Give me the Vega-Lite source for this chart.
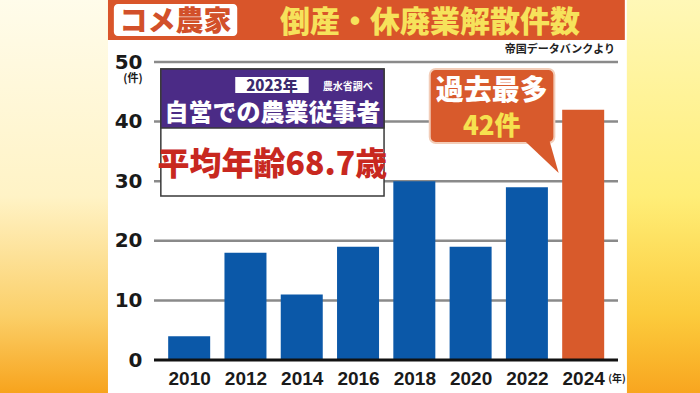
{
  "$schema": "https://vega.github.io/schema/vega-lite/v6.json",
  "width": 474,
  "height": 298,
  "autosize": {"type": "none"},
  "padding": {"left": 149, "top": 62, "right": 77, "bottom": 33},
  "background": "#FFF3B8",
  "config": {"view": {"stroke": null}, "text": {"font": "Noto Sans CJK JP"}},
  "data": {"values": [
    {"year": 2010, "count": 4},
    {"year": 2012, "count": 18},
    {"year": 2014, "count": 11},
    {"year": 2016, "count": 19},
    {"year": 2018, "count": 30},
    {"year": 2020, "count": 19},
    {"year": 2022, "count": 29},
    {"year": 2024, "count": 42}
  ]},
  "layer": [
    {
      "data": {"values": [{}]},
      "mark": {"type": "rect", "fill": {"gradient": "linear", "x1": 0, "y1": 0, "x2": 0, "y2": 1, "stops": [
        {"offset": 0, "color": "#FFFCEB"}, {"offset": 0.5, "color": "#FFF3C6"}, {"offset": 0.8, "color": "#FBCF68"}, {"offset": 1, "color": "#F7A21A"}]}},
      "encoding": {"x": {"datum": 2003}, "x2": {"datum": 2007.115}, "y": {"datum": 61}, "y2": {"datum": -6}}
    },
    {
      "data": {"values": [{}]},
      "mark": {"type": "rect", "fill": {"gradient": "linear", "x1": 0, "y1": 0, "x2": 0, "y2": 1, "stops": [
        {"offset": 0, "color": "#FFF8B8"}, {"offset": 0.5, "color": "#FFEE78"}, {"offset": 0.8, "color": "#FCCB3C"}, {"offset": 1, "color": "#F8A41E"}]}},
      "encoding": {"x": {"datum": 2025.55}, "x2": {"datum": 2029}, "y": {"datum": 61}, "y2": {"datum": -6}}
    },
    {
      "data": {"values": [{}]},
      "mark": {"type": "rect", "fill": "#FFFFFF"},
      "encoding": {"x": {"datum": 2007.115}, "x2": {"datum": 2025.55}, "y": {"datum": 61}, "y2": {"datum": -6}}
    },
    {
      "data": {"values": [{}]},
      "mark": {"type": "rect", "fill": "#D9552A"},
      "encoding": {"x": {"datum": 2007.115}, "x2": {"datum": 2025.48}, "y": {"datum": 61}, "y2": {"datum": 53.691}}
    },
    {
      "data": {"values": [{}]},
      "mark": {"type": "rect", "fill": "#FFFFFF", "cornerRadius": 4},
      "encoding": {"x": {"datum": 2007.324}, "x2": {"datum": 2011.707}, "y": {"datum": 59.732}, "y2": {"datum": 54.362}}
    },
    {
      "data": {"values": [{}]},
      "mark": {"type": "text", "fontSize": 28, "fontWeight": 900, "color": "#D2502A", "align": "center", "baseline": "middle"},
      "encoding": {"x": {"datum": 2009.515}, "y": {"datum": 56.6}, "text": {"value": "コメ農家"}}
    },
    {
      "data": {"values": [{}]},
      "mark": {"type": "text", "fontSize": 30, "fontWeight": 900, "color": "#F6E25B", "align": "center", "baseline": "middle"},
      "encoding": {"x": {"datum": 2018.559}, "y": {"datum": 56.5}, "text": {"value": "倒産・休廃業解散件数"}}
    },
    {
      "data": {"values": [{}]},
      "mark": {"type": "text", "fontSize": 11, "fontWeight": "bold", "color": "#222222", "align": "right", "baseline": "middle"},
      "encoding": {"x": {"datum": 2025.133}, "y": {"datum": 52.013}, "text": {"value": "帝国データバンクより"}}
    },
    {
      "data": {"values": [{"tick": 10}, {"tick": 20}, {"tick": 30}, {"tick": 40}, {"tick": 50}]},
      "mark": {"type": "rule", "color": "#8A8A8A", "strokeWidth": 2.5},
      "encoding": {"y": {"field": "tick", "type": "quantitative"}, "x": {"datum": 2008.75}, "x2": {"datum": 2025.237}}
    },
    {
      "mark": {"type": "bar", "size": 42},
      "encoding": {
        "x": {"field": "year", "type": "quantitative",
          "scale": {"domain": [2008.75, 2025.237], "nice": false, "zero": false},
          "axis": {"values": [2010, 2012, 2014, 2016, 2018, 2020, 2022, 2024], "format": "d", "title": null, "grid": false, "ticks": false, "domain": false,
            "labelFont": "Liberation Sans", "labelFontSize": 19, "labelFontWeight": "bold", "labelColor": "#1A1A1A",
            "labelPadding": 9, "zindex": 1, "labelFlush": false, "labelOverlap": false}},
        "y": {"field": "count", "type": "quantitative",
          "scale": {"domain": [0, 50], "nice": false},
          "axis": {"values": [0, 10, 20, 30, 40, 50], "title": null, "grid": false, "ticks": false, "domain": false,
            "labelFont": "DejaVu Sans", "labelFontSize": 20, "labelFontWeight": "bold", "labelColor": "#1A1A1A", "labelPadding": 7, "zindex": 1}},
        "color": {"condition": {"test": "datum.year === 2024", "value": "#D85A2B"}, "value": "#0B58A8"}
      }
    },
    {
      "data": {"values": [{}]},
      "mark": {"type": "rule", "color": "#111111", "strokeWidth": 3},
      "encoding": {"y": {"datum": 0}, "x": {"datum": 2008.75}, "x2": {"datum": 2025.237}}
    },
    {
      "data": {"values": [{}]},
      "mark": {"type": "text", "fontSize": 11, "fontWeight": "bold", "color": "#1A1A1A", "align": "center", "baseline": "middle"},
      "encoding": {"x": {"datum": 2008.002}, "y": {"datum": 47.1}, "text": {"value": "(件)"}}
    },
    {
      "data": {"values": [{}]},
      "mark": {"type": "text", "fontSize": 10, "fontWeight": "bold", "color": "#1A1A1A", "align": "center", "baseline": "middle"},
      "encoding": {"x": {"datum": 2025.2}, "y": {"datum": -3.188}, "text": {"value": "(年)"}}
    },
    {
      "data": {"values": [{}]},
      "mark": {"type": "rect", "fill": "#FFFFFF", "stroke": "#3A3A3A", "strokeWidth": 1.5},
      "encoding": {"x": {"datum": 2008.993}, "x2": {"datum": 2016.924}, "y": {"datum": 48.826}, "y2": {"datum": 27.517}}
    },
    {
      "data": {"values": [{}]},
      "mark": {"type": "rect", "fill": "#4B2B86", "stroke": "#3A3A3A", "strokeWidth": 1.5},
      "encoding": {"x": {"datum": 2008.993}, "x2": {"datum": 2016.924}, "y": {"datum": 48.826}, "y2": {"datum": 38.926}}
    },
    {
      "data": {"values": [{}]},
      "mark": {"type": "rect", "fill": "#FFFFFF"},
      "encoding": {"x": {"datum": 2011.637}, "x2": {"datum": 2014.246}, "y": {"datum": 47.483}, "y2": {"datum": 44.799}}
    },
    {
      "data": {"values": [{}]},
      "mark": {"type": "text", "fontSize": 15, "fontWeight": 900, "color": "#3B2A6E", "align": "center", "baseline": "middle"},
      "encoding": {"x": {"datum": 2012.941}, "y": {"datum": 46.0}, "text": {"value": "2023年"}}
    },
    {
      "data": {"values": [{}]},
      "mark": {"type": "text", "fontSize": 10, "fontWeight": "bold", "color": "#FFFFFF", "align": "center", "baseline": "middle"},
      "encoding": {"x": {"datum": 2015.637}, "y": {"datum": 45.8}, "text": {"value": "農水省調べ"}}
    },
    {
      "data": {"values": [{}]},
      "mark": {"type": "text", "fontSize": 24, "fontWeight": 900, "color": "#FFFFFF", "align": "center", "baseline": "middle"},
      "encoding": {"x": {"datum": 2012.959}, "y": {"datum": 41.3}, "text": {"value": "自営での農業従事者"}}
    },
    {
      "data": {"values": [{}]},
      "mark": {"type": "text", "fontSize": 32, "fontWeight": 900, "color": "#C8281F", "align": "center", "baseline": "middle"},
      "encoding": {"x": {"datum": 2012.959}, "y": {"datum": 32.8}, "text": {"value": "平均年齢68.7歳"}}
    },
    {
      "data": {"values": [{}]},
      "mark": {"type": "rect", "fill": "#D85A2C", "stroke": "#F3CDB8", "strokeWidth": 2, "cornerRadius": 6},
      "encoding": {"x": {"datum": 2018.548}, "x2": {"datum": 2022.976}, "y": {"datum": 48.826}, "y2": {"datum": 36.409}}
    },
    {
      "data": {"values": [{}]},
      "mark": {"type": "point", "shape": "M-0.9,-1L0.45,-1L0.95,0.75Z", "size": 1600, "filled": true, "fill": "#D85A2C", "strokeWidth": 0, "opacity": 1},
      "encoding": {"x": {"datum": 2022.454}, "y": {"datum": 33.893}}
    },
    {
      "data": {"values": [{}]},
      "mark": {"type": "text", "fontSize": 28, "fontWeight": 900, "color": "#FFFFFF", "align": "center", "baseline": "middle"},
      "encoding": {"x": {"datum": 2020.75}, "y": {"datum": 45.0}, "text": {"value": "過去最多"}}
    },
    {
      "data": {"values": [{}]},
      "mark": {"type": "text", "fontSize": 26, "fontWeight": 900, "color": "#F6E14F", "align": "center", "baseline": "middle"},
      "encoding": {"x": {"datum": 2020.75}, "y": {"datum": 39.1}, "text": {"value": "42件"}}
    }
  ]
}
